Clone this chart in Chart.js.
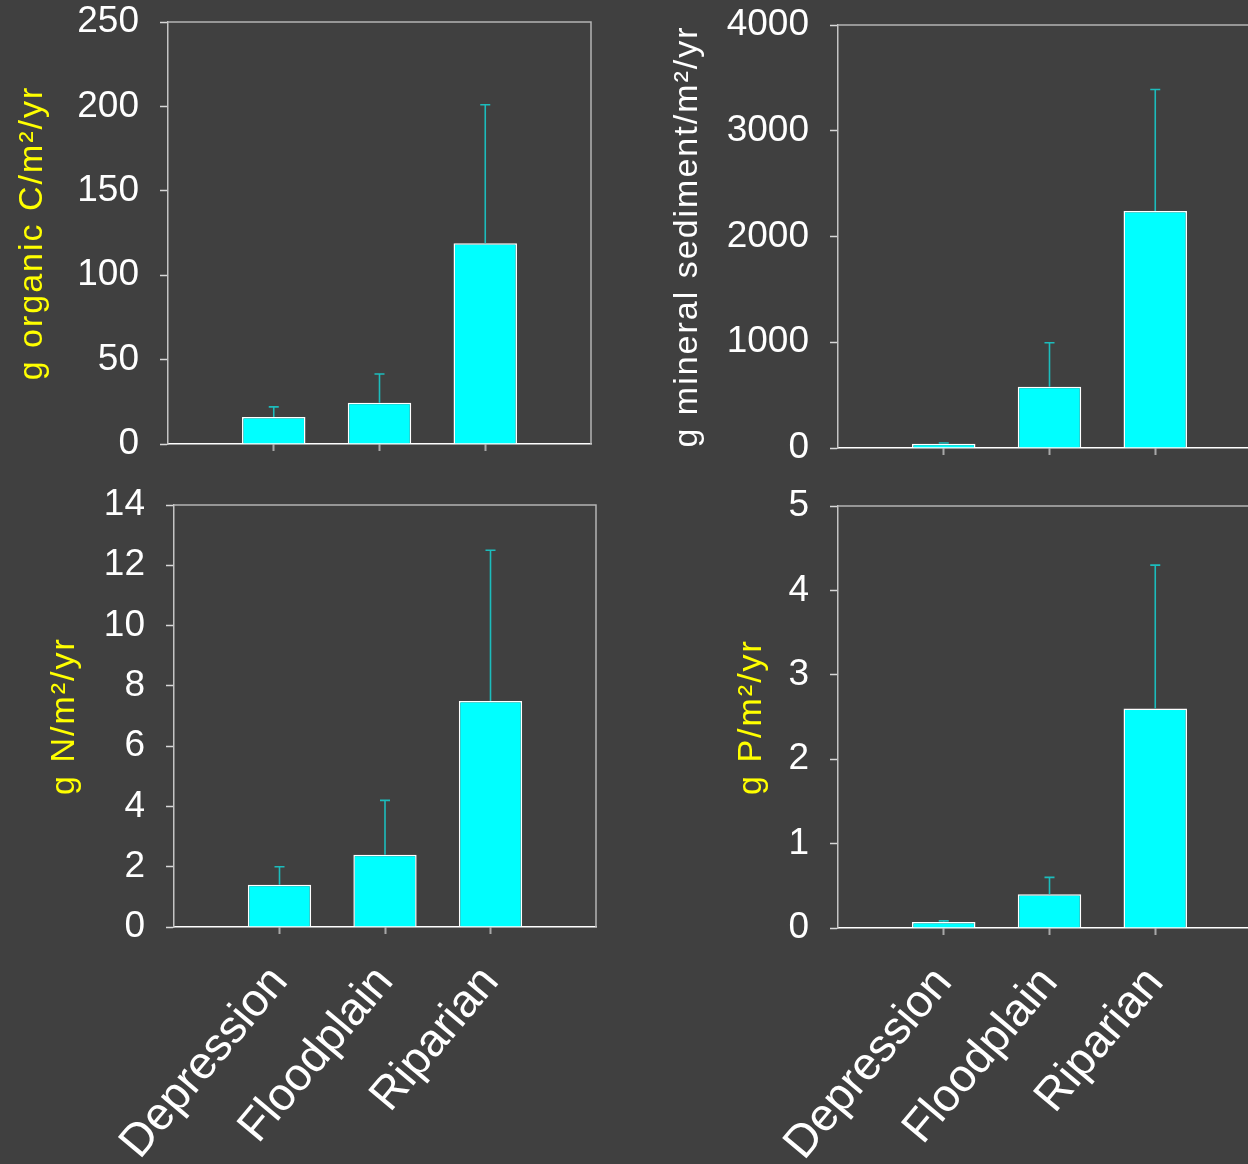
<!DOCTYPE html>
<html>
<head>
<meta charset="utf-8">
<script src="https://cdn.jsdelivr.net/npm/chart.js@4.4.1/dist/chart.umd.min.js"></script>
<style>
  html, body { margin: 0; padding: 0; background: #404040; width: 1248px; height: 1164px; overflow: hidden; }
  canvas { position: absolute; }
</style>
</head>
<body>
<canvas id="carbon"></canvas>
<canvas id="sediment"></canvas>
<canvas id="nitrogen"></canvas>
<canvas id="phosphorus"></canvas>
<script>
// Wetland types along the x axis
const categories = ['Depression', 'Floodplain', 'Riparian'];

// Accumulation rates (mean) and the upper error (one-sided) for each wetland type
const carbonMeans = [16, 24.5, 119];
const carbonErrors = [6, 17, 82];
const sedimentMeans = [40, 580, 2240];
const sedimentErrors = [7, 415, 1150];
const nitrogenMeans = [1.4, 2.4, 7.5];
const nitrogenErrors = [0.6, 1.8, 5.0];
const phosphorusMeans = [0.07, 0.40, 2.60];
const phosphorusErrors = [0.015, 0.20, 1.70];

// Y axis ranges and tick steps
const carbonTicks = { max: 250, step: 50 };
const sedimentTicks = { max: 4000, step: 1000 };
const nitrogenTicks = { max: 14, step: 2 };
const phosphorusTicks = { max: 5, step: 1 };

const FONT = '"Liberation Sans", Arial, Helvetica, sans-serif';

// Upward error whiskers, positioned with the chart's own scales
const errorBars = {
  id: 'errorBars',
  afterDatasetsDraw(chart, args, opts) {
    const { ctx, scales: { x, y } } = chart;
    const means = opts.means, errs = opts.errors;
    ctx.save();
    ctx.strokeStyle = '#1cbcbc';
    ctx.lineWidth = 1.6;
    means.forEach((m, i) => {
      const px = x.getPixelForValue(i + 1);
      const y0 = y.getPixelForValue(m);
      const y1 = y.getPixelForValue(m + errs[i]);
      ctx.beginPath();
      ctx.moveTo(px, y0);
      ctx.lineTo(px, y1);
      ctx.moveTo(px - 5, y1);
      ctx.lineTo(px + 5, y1);
      ctx.stroke();
    });
    ctx.restore();
  }
};

// Top and right edges of the plot frame
const frame = {
  id: 'frame',
  afterDraw(chart) {
    const { ctx, chartArea: a } = chart;
    ctx.save();
    ctx.strokeStyle = '#b4b4b4';
    ctx.lineWidth = 1.5;
    ctx.beginPath();
    ctx.moveTo(a.left, a.top);
    ctx.lineTo(a.right, a.top);
    ctx.lineTo(a.right, a.bottom);
    ctx.stroke();
    ctx.restore();
  }
};

// Axis titles use slightly spread lettering; tick labels do not
const titleSpacing = {
  id: 'titleSpacing',
  beforeDraw(chart) { chart.ctx.letterSpacing = '2px'; },
  beforeDatasetsDraw(chart) { chart.ctx.letterSpacing = '0px'; }
};

function makeChart(id, box, means, errors, ticks, title, titleColor, showLabels) {
  const canvas = document.getElementById(id);
  canvas.width = box.w;
  canvas.height = box.h;
  canvas.style.left = box.left + 'px';
  canvas.style.top = box.top + 'px';

  return new Chart(canvas, {
    type: 'bar',
    data: {
      datasets: [{
        data: means.map((v, i) => ({ x: i + 1, y: v })),
        backgroundColor: '#00ffff',
        borderColor: '#ffffff',
        borderWidth: 1.5,
        barPercentage: 0.6,
        categoryPercentage: 1.0
      }]
    },
    options: {
      responsive: false,
      animation: false,
      events: [],
      layout: { padding: { left: 0, top: box.padTop, right: box.padRight, bottom: 0 } },
      plugins: {
        legend: { display: false },
        tooltip: { enabled: false },
        errorBars: { means, errors }
      },
      scales: {
        x: {
          type: 'linear',
          min: 0,
          max: 4,
          offset: false,
          grid: {
            offset: false,
            drawOnChartArea: false,
            drawTicks: true,
            tickLength: 7,
            tickWidth: 2,
            tickColor: (ctx) => (ctx.tick && ctx.tick.value >= 1 && ctx.tick.value <= 3) ? '#a8a8a8' : 'rgba(0,0,0,0)'
          },
          border: { color: '#ffffff', width: 1.5 },
          ticks: {
            z: 1,
            stepSize: 1,
            autoSkip: false,
            minRotation: 50,
            maxRotation: 50,
            padding: box.labelPad || 0,
            color: '#ffffff',
            font: { family: FONT, size: 46 },
            callback: (v) => (showLabels && categories[v - 1]) ? categories[v - 1] : ''
          },
          afterFit: (scale) => {
            scale.height = box.xHeight;
            scale.paddingLeft = 0;
            scale.paddingRight = 0;
          }
        },
        y: {
          min: 0,
          max: ticks.max,
          grid: {
            drawOnChartArea: false,
            drawTicks: true,
            tickLength: 8,
            tickWidth: 1.5,
            tickColor: '#d8d8d8'
          },
          border: { color: '#c4c4c4', width: 1.5 },
          ticks: {
            z: 1,
            stepSize: ticks.step,
            padding: 21,
            color: '#ffffff',
            font: { family: FONT, size: 37 },
            callback: (v) => String(v)
          },
          title: {
            display: true,
            text: title,
            color: titleColor,
            font: { family: FONT, size: 34 },
            padding: { top: box.titlePad, bottom: 0 }
          },
          afterFit: (scale) => {
            scale.width = box.yWidth;
            scale.paddingTop = 0;
            scale.paddingBottom = 0;
          }
        }
      }
    },
    plugins: [errorBars, frame, titleSpacing]
  });
}

makeChart('carbon',
  { left: 0, top: 0, w: 640, h: 470, yWidth: 168, padTop: 22, padRight: 49, xHeight: 26, titlePad: 12.4 },
  carbonMeans, carbonErrors, carbonTicks, 'g organic C/m\u00B2/yr', '#ffff00', false);

makeChart('sediment',
  { left: 660, top: 0, w: 660, h: 470, yWidth: 178, padTop: 25, padRight: 59, xHeight: 22, titlePad: 7.4 },
  sedimentMeans, sedimentErrors, sedimentTicks, 'g mineral sediment/m\u00B2/yr', '#ffffff', false);

makeChart('nitrogen',
  { left: 0, top: 470, w: 650, h: 694, yWidth: 174, padTop: 35, padRight: 54, xHeight: 237, titlePad: 44, labelPad: 22 },
  nitrogenMeans, nitrogenErrors, nitrogenTicks, 'g N/m\u00B2/yr', '#ffff00', true);

makeChart('phosphorus',
  { left: 660, top: 470, w: 660, h: 694, yWidth: 178, padTop: 36, padRight: 59, xHeight: 236, titlePad: 71, labelPad: 22 },
  phosphorusMeans, phosphorusErrors, phosphorusTicks, 'g P/m\u00B2/yr', '#ffff00', true);
</script>
</body>
</html>
